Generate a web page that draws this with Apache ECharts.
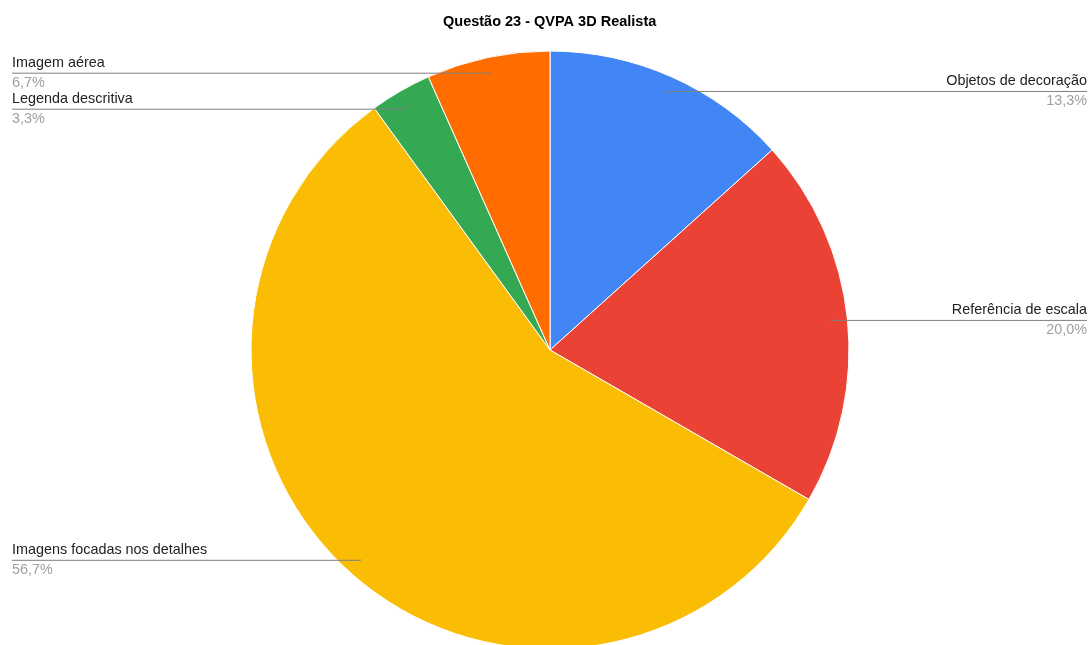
<!DOCTYPE html>
<html>
<head>
<meta charset="utf-8">
<script src="https://cdn.jsdelivr.net/npm/echarts@6/dist/echarts.min.js"></script>
<style>
  html, body { margin: 0; padding: 0; background: #fff; }
  #chart { width: 1090px; height: 645px; }
</style>
</head>
<body>
<div id="chart"></div>
<script>
  // respostas da questão 23
  const categories = ['Objetos de decoração', 'Referência de escala', 'Imagens focadas nos detalhes', 'Legenda descritiva', 'Imagem aérea'];
  const counts = [4, 6, 17, 1, 2];
  const colors = ['#4285f4', '#ea4335', '#fbbc04', '#34a853', '#ff6d01'];

  const FONT = '14.4px "Liberation Sans"';
  const center = [550, 350];

  let chart = echarts.init(document.getElementById('chart'));
  let total = counts.reduce((a, b) => a + b, 0);
  let pctText = (v) => (v / total * 100).toFixed(1).replace('.', ',') + '%';

  // text width, so the leader line can run on under the label up to the edge
  let ctx = document.createElement('canvas').getContext('2d');
  ctx.font = FONT;
  let textW = (s) => ctx.measureText(s).width;

  let sliceData = categories.map((name, i) => ({ name: name, value: counts[i] }));

  // invisible smaller pie only carries the labels, so the leader lines start inside the slice
  let labelData = categories.map((name, i) => {
    let w = Math.max(textW(name), textW(pctText(counts[i])));
    return {
      name: name,
      value: counts[i],
      label: { edgeDistance: i < 2 ? 3 : 12, distanceToLabelLine: -w }
    };
  });

  chart.setOption({
    animation: false,
    title: {
      text: 'Questão 23 - QVPA 3D Realista',
      left: 438,
      top: 9,
      textStyle: { fontFamily: 'Liberation Sans', fontSize: 14.5, fontWeight: 'bold', color: '#000' }
    },
    series: [
      {
        type: 'pie',
        z: 1,
        center: center,
        radius: 299,
        startAngle: 90,
        silent: true,
        color: colors,
        itemStyle: { borderColor: '#fff', borderWidth: 1 },
        label: { show: false },
        labelLine: { show: false },
        data: sliceData
      },
      {
        type: 'pie',
        z: 5,
        center: center,
        radius: 282,
        startAngle: 90,
        silent: true,
        itemStyle: { color: 'rgba(0,0,0,0)' },
        label: {
          show: true,
          alignTo: 'edge',
          formatter: (p) => '{n|' + p.name + '}\n{p|' + pctText(p.value) + '}',
          rich: {
            n: { fontFamily: 'Liberation Sans', fontSize: 14.4, color: '#222', lineHeight: 20 },
            p: { fontFamily: 'Liberation Sans', fontSize: 14.4, color: '#a0a0a0', lineHeight: 20 }
          }
        },
        labelLine: {
          show: true,
          length: 1,
          length2: 5,
          minTurnAngle: 0,
          lineStyle: { color: '#808080', width: 1 }
        },
        data: labelData
      }
    ]
  });
</script>
</body>
</html>
